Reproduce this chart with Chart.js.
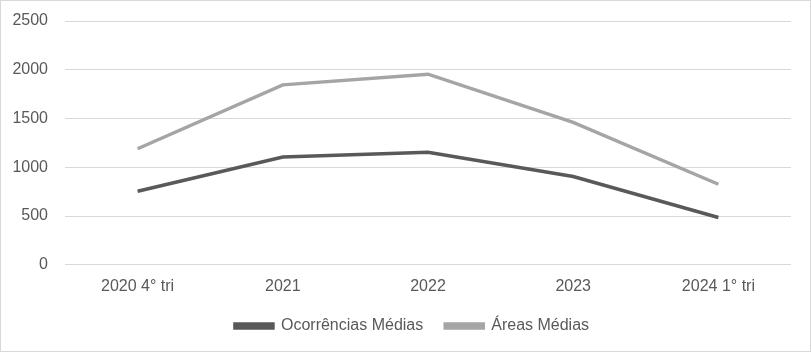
<!DOCTYPE html>
<html>
<head>
<meta charset="utf-8">
<script src="https://cdn.jsdelivr.net/npm/chart.js@4/dist/chart.umd.min.js"></script>
<style>
  html, body { margin: 0; padding: 0; background: #fff; }
  #wrap { width: 811px; height: 352px; box-sizing: border-box; border: 1px solid #d9d9d9; }
  canvas { display: block; }
</style>
</head>
<body>
<div id="wrap"><canvas id="c" width="809" height="350"></canvas></div>
<script>
const categories = ["2020 4° tri", "2021", "2022", "2023", "2024 1° tri"];
const ocorrencias = [755, 1105, 1155, 905, 485];
const areas = [1190, 1845, 1955, 1460, 826];
const yTicks = [0, 500, 1000, 1500, 2000, 2500];

const FONT = "'Liberation Sans Narrow', 'Liberation Sans', sans-serif";
const TXT = '#595959';

const shiftLegend = {
  id: 'shiftLegend',
  afterLayout(chart) {
    if (chart.legend) { chart.legend.left += 16; chart.legend.right += 16; }
  }
};

new Chart(document.getElementById('c'), {
  type: 'line',
  data: {
    labels: categories,
    datasets: [
      { label: 'Ocorrências Médias', data: ocorrencias, borderColor: '#595959', backgroundColor: '#595959', borderWidth: 3.5, pointRadius: 0, tension: 0 },
      { label: 'Áreas Médias', data: areas, borderColor: '#a5a5a5', backgroundColor: '#a5a5a5', borderWidth: 3.5, pointRadius: 0, tension: 0 }
    ]
  },
  plugins: [shiftLegend],
  options: {
    responsive: false,
    animation: false,
    layout: { padding: { top: 20, right: 19, left: 0, bottom: 7 } },
    plugins: {
      legend: {
        position: 'bottom',
        labels: {
          color: TXT,
          font: { family: FONT, size: 16 },
          boxWidth: 38,
          boxHeight: 4,
          padding: 22
        }
      },
      tooltip: { enabled: false }
    },
    scales: {
      x: {
        offset: true,
        afterFit: (s) => { s.height -= 12; },
        grid: { display: false, drawTicks: false },
        border: { display: false },
        ticks: { color: TXT, font: { family: FONT, size: 16 }, padding: 12, maxRotation: 0 }
      },
      y: {
        min: 0, max: 2500,
        afterBuildTicks: (s) => { s.ticks = yTicks.map(v => ({ value: v })); },
        afterFit: (s) => { s.width = 64; s.paddingTop = 0; s.paddingBottom = 0; },
        grid: { color: '#d9d9d9', lineWidth: 1, drawTicks: false },
        border: { display: false },
        ticks: { color: TXT, font: { family: FONT, size: 16 }, padding: 17, callback: (v) => String(v) }
      }
    }
  }
});
</script>
</body>
</html>
